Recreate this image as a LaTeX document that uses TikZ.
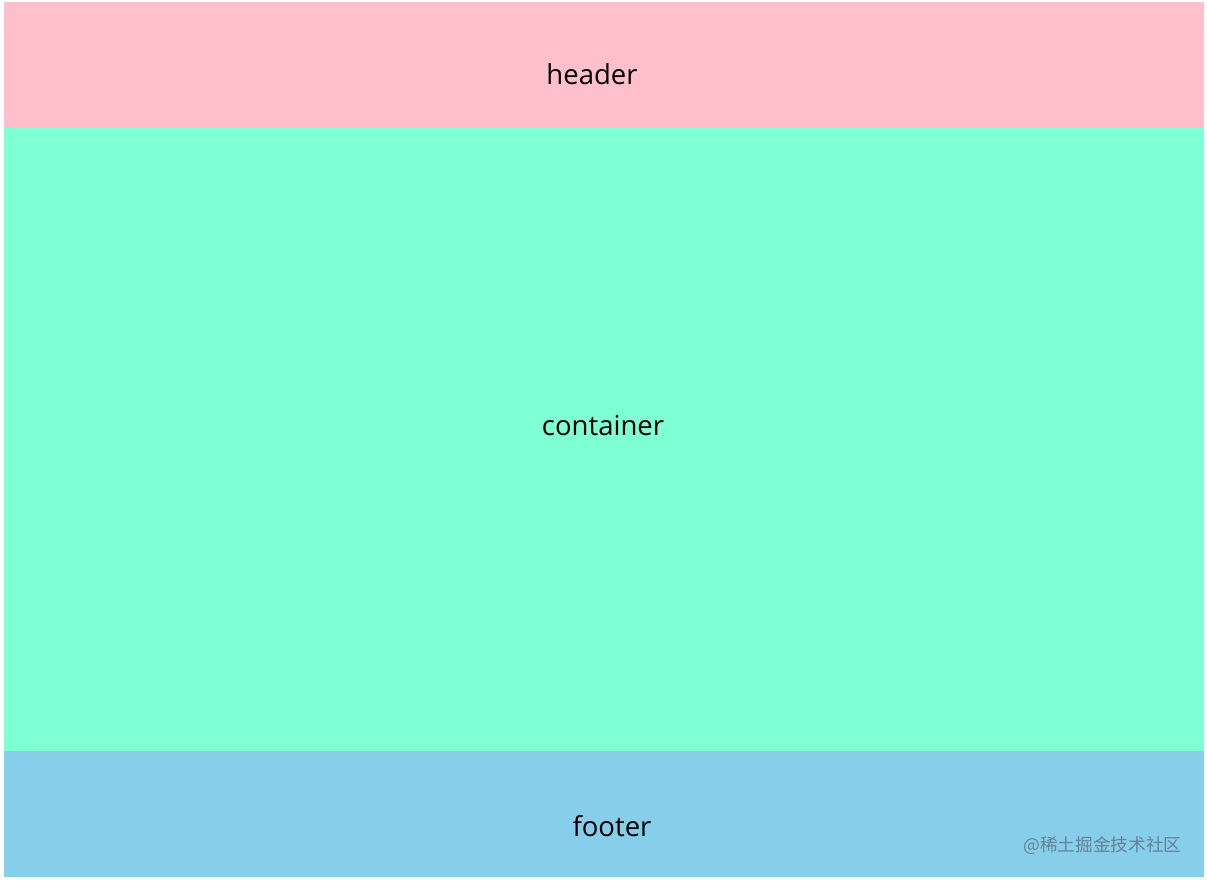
\documentclass[tikz,border=0pt]{standalone}
\usepackage{fontspec}
\setmainfont{Open Sans}
\newfontfamily\cjk{Noto Sans CJK SC}
\definecolor{hdrpink}{HTML}{FFC0CB}
\definecolor{bodyaqua}{HTML}{7FFFD4}
\definecolor{ftrblue}{HTML}{87CEEB}
\definecolor{wmgray}{RGB}{100,130,150}
\begin{document}
\begin{tikzpicture}[x=1pt,y=-1pt,
  band/.style={draw=none,inner sep=0pt,outer sep=0pt},
  lbl/.style={font=\fontsize{27.5}{32}\selectfont,text=black,inner sep=0pt},
  wm/.style={font=\cjk\fontsize{17.7}{20}\selectfont,text=wmgray,inner sep=0pt}]
\useasboundingbox[fill=white] (0,0) rectangle (1207,881);
\fill[hdrpink] (4,2) rectangle (1204,127);
\fill[bodyaqua] (4,127) rectangle (1204,751);
\fill[ftrblue] (4,751) rectangle (1204,877);
\node[lbl] (header) at (592,74) {header};
\node[lbl] (container) at (603,426) {container};
\node[lbl] (footer) at (612,826) {footer};
\node[wm] (mark) at (1102.5,846) {@稀土掘金技术社区};
\end{tikzpicture}
\end{document}
